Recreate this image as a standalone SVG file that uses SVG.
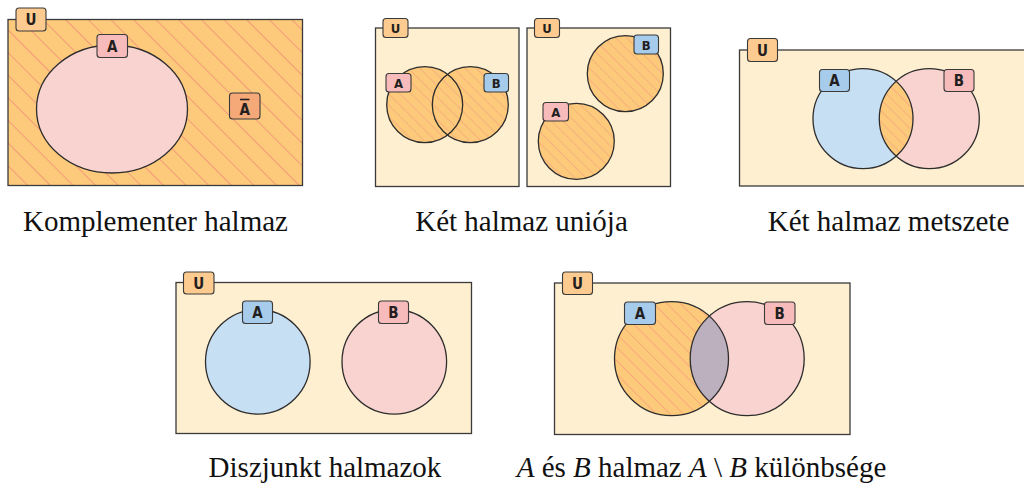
<svg xmlns="http://www.w3.org/2000/svg" width="1024" height="484" viewBox="0 0 1024 484">
<defs>
<style>
.panel{fill:#FEEFD0;stroke:#3a3a3a;stroke-width:1.3}
.tab{stroke:#3a3a3a;stroke-width:1.1}
.tu{fill:#FDCB8F}
.ta{fill:#F8BBBB}
.tb{fill:#A6CBEB}
.tbar{fill:#F5A878}
.lt{font-weight:bold;font-size:15px;fill:#231F20;text-anchor:middle}
.lts{font-size:13px}
.ol{fill:none;stroke:#2d2d2d;stroke-width:1.3}
.blue{fill:#C7DFF3}
.pink{fill:#F9D3CF}
.cap{font-size:29px;fill:#111;text-anchor:middle}
</style>
<pattern id="hatchBig" patternUnits="userSpaceOnUse" width="16" height="16" patternTransform="rotate(-45)">
<rect width="16" height="16" fill="#FDCA7C"/>
<line x1="0" y1="0" x2="0" y2="16" stroke="#F39A78" stroke-width="2"/>
</pattern>
<pattern id="hatch" patternUnits="userSpaceOnUse" width="8" height="8" patternTransform="rotate(-45)">
<rect width="8" height="8" fill="#FDCA7C"/>
<line x1="0" y1="0" x2="0" y2="8" stroke="#F3A07C" stroke-width="1.2"/>
</pattern>
<pattern id="hatchMid" patternUnits="userSpaceOnUse" width="9.5" height="9.5" patternTransform="rotate(-45)">
<rect width="9.5" height="9.5" fill="#FDCA7C"/>
<line x1="0" y1="0" x2="0" y2="9.5" stroke="#F39A78" stroke-width="1.3"/>
</pattern>
<clipPath id="clipA3"><circle cx="863" cy="118.7" r="50"/></clipPath>
<clipPath id="clipA5"><circle cx="671.5" cy="358.7" r="57"/></clipPath>
</defs>

<g id="panel-complement" font-family="Liberation Sans Narrow, DejaVu Sans Condensed, sans-serif">
<rect x="8" y="19.5" width="294.5" height="166" fill="url(#hatchBig)" stroke="#3a3a3a" stroke-width="1.3"/>
<rect class="tab tu" x="16" y="8" width="30" height="23" rx="3"/>
<text class="lt" x="31" y="25">U</text>
<ellipse cx="112" cy="109" rx="75.5" ry="64" class="pink" stroke="#2d2d2d" stroke-width="1.3"/>
<rect class="tab ta" x="97" y="34.5" width="30.5" height="23" rx="3"/>
<text class="lt" x="112.2" y="51.5">A</text>
<rect class="tab tbar" x="229.5" y="93" width="30.5" height="26" rx="3"/>
<text class="lt" x="244.7" y="115">A</text>
<line x1="240" y1="99.5" x2="249.5" y2="99.5" stroke="#231F20" stroke-width="1.6"/>
</g>

<g id="panel-union-overlap" font-family="Liberation Sans Narrow, DejaVu Sans Condensed, sans-serif">
<rect class="panel" x="375.5" y="28" width="143.5" height="158.5"/>
<rect class="tab tu" x="383" y="18.5" width="25" height="19" rx="3"/>
<text class="lt lts" x="395.5" y="33">U</text>
<circle cx="424.7" cy="104.7" r="38" fill="url(#hatch)"/>
<circle cx="470.3" cy="104.7" r="38" fill="url(#hatch)"/>
<circle cx="424.7" cy="104.7" r="38" class="ol"/>
<circle cx="470.3" cy="104.7" r="38" class="ol"/>
<rect class="tab ta" x="386" y="73.5" width="25" height="18.5" rx="3"/>
<text class="lt lts" x="398.5" y="87.5">A</text>
<rect class="tab tb" x="484" y="73.5" width="24.5" height="18.5" rx="3"/>
<text class="lt lts" x="496.3" y="87.5">B</text>
</g>

<g id="panel-union-disjoint" font-family="Liberation Sans Narrow, DejaVu Sans Condensed, sans-serif">
<rect class="panel" x="527" y="28" width="143.5" height="158.5"/>
<rect class="tab tu" x="534.5" y="18.5" width="25" height="19" rx="3"/>
<text class="lt lts" x="547" y="33">U</text>
<circle cx="625.3" cy="73.7" r="38" class="ol" style="fill:url(#hatch)"/>
<rect class="tab tb" x="634" y="35" width="24.5" height="19" rx="3"/>
<text class="lt lts" x="646.3" y="49.5">B</text>
<circle cx="576.3" cy="141.3" r="38" class="ol" style="fill:url(#hatch)"/>
<rect class="tab ta" x="543" y="102.5" width="25.5" height="18.5" rx="3"/>
<text class="lt lts" x="555.7" y="116.5">A</text>
</g>

<g id="panel-intersection" font-family="Liberation Sans Narrow, DejaVu Sans Condensed, sans-serif">
<rect class="panel" x="739.5" y="50" width="300" height="136"/>
<rect class="tab tu" x="747.5" y="38.5" width="30" height="23" rx="3"/>
<text class="lt" x="762.5" y="55.5">U</text>
<circle cx="863" cy="118.7" r="50" class="blue"/>
<circle cx="929.3" cy="118.7" r="50" class="pink"/>
<circle cx="929.3" cy="118.7" r="50" fill="url(#hatch)" clip-path="url(#clipA3)"/>
<circle cx="863" cy="118.7" r="50" class="ol"/>
<circle cx="929.3" cy="118.7" r="50" class="ol"/>
<rect class="tab tb" x="819.5" y="69.5" width="30" height="22" rx="3"/>
<text class="lt" x="834.5" y="86">A</text>
<rect class="tab ta" x="944" y="69.5" width="30" height="22" rx="3"/>
<text class="lt" x="959" y="86">B</text>
</g>

<g id="panel-disjoint" font-family="Liberation Sans Narrow, DejaVu Sans Condensed, sans-serif">
<rect class="panel" x="176" y="282.5" width="295.5" height="151"/>
<rect class="tab tu" x="183.5" y="272" width="30.5" height="22" rx="3"/>
<text class="lt" x="198.7" y="288.5">U</text>
<circle cx="257.8" cy="361.8" r="52.3" class="ol" style="fill:#C7DFF3"/>
<circle cx="394.3" cy="361.8" r="52.3" class="ol" style="fill:#F9D3CF"/>
<rect class="tab tb" x="242.5" y="301" width="30" height="22.5" rx="3"/>
<text class="lt" x="257.5" y="317.5">A</text>
<rect class="tab ta" x="378.5" y="301" width="30" height="22.5" rx="3"/>
<text class="lt" x="393.5" y="317.5">B</text>
</g>

<g id="panel-difference" font-family="Liberation Sans Narrow, DejaVu Sans Condensed, sans-serif">
<rect class="panel" x="554.5" y="283" width="295.5" height="151.5"/>
<rect class="tab tu" x="562.5" y="272" width="30" height="22.5" rx="3"/>
<text class="lt" x="577.5" y="288.5">U</text>
<circle cx="671.5" cy="358.7" r="57" fill="url(#hatchMid)"/>
<circle cx="747.2" cy="358.7" r="57" class="pink"/>
<circle cx="747.2" cy="358.7" r="57" fill="#BCB0BE" clip-path="url(#clipA5)"/>
<circle cx="671.5" cy="358.7" r="57" class="ol"/>
<circle cx="747.2" cy="358.7" r="57" class="ol"/>
<rect class="tab tb" x="624.5" y="302" width="31" height="22.5" rx="3"/>
<text class="lt" x="640" y="318.5">A</text>
<rect class="tab ta" x="764.5" y="302" width="30.5" height="22.5" rx="3"/>
<text class="lt" x="779.7" y="318.5">B</text>
</g>

<g id="captions" font-family="Liberation Serif, Times New Roman, serif">
<text class="cap" x="155.5" y="231">Komplementer halmaz</text>
<text class="cap" x="521.5" y="231">Két halmaz uniója</text>
<text class="cap" x="888.5" y="231">Két halmaz metszete</text>
<text class="cap" x="325" y="477">Diszjunkt halmazok</text>
<text class="cap" x="701.5" y="477"><tspan font-style="italic">A</tspan> és <tspan font-style="italic">B</tspan> halmaz <tspan font-style="italic">A</tspan> \ <tspan font-style="italic">B</tspan> különbsége</text>
</g>
</svg>
